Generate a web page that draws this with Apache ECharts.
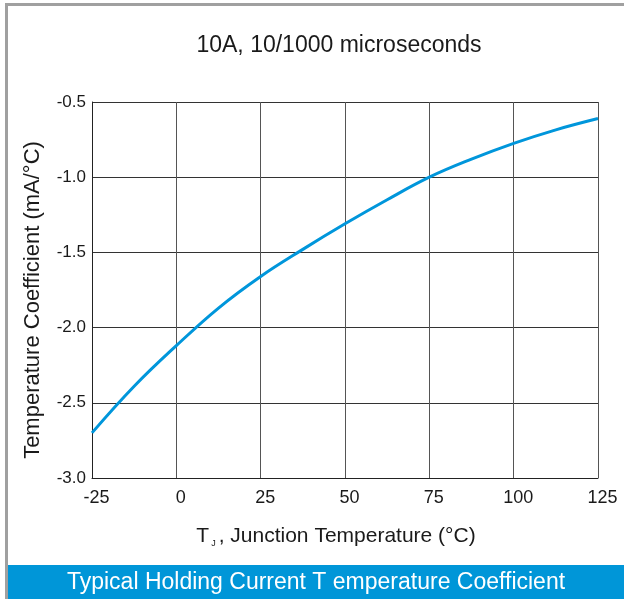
<!DOCTYPE html>
<html>
<head>
<meta charset="utf-8">
<script src="https://cdn.jsdelivr.net/npm/echarts@6/dist/echarts.min.js"></script>
<style>
  html, body { margin: 0; padding: 0; background: #fff; }
  #chart { width: 624px; height: 599px; }
</style>
</head>
<body>
<div id="chart"></div>
<script>
// Junction temperature (°C) and holding-current temperature coefficient (mA/°C)
const junctionTemp = [-25, -12.5, 0, 12.5, 25, 37.5, 50, 62.5, 75, 87.5, 100, 112.5, 125];
const tempCoefficient = [-2.70, -2.39, -2.12, -1.87, -1.66, -1.48, -1.31, -1.15, -1.00, -0.88, -0.775, -0.685, -0.61];

const xTicks = [-25, 0, 25, 50, 75, 100, 125];
const yTicks = [-3.0, -2.5, -2.0, -1.5, -1.0, -0.5];

const chartTitle = '10A, 10/1000 microseconds';
const yAxisTitle = 'Temperature Coefficient (mA/°C)';
const footerText = 'Typical Holding Current T emperature Coefficient';

const FONT = '"Liberation Sans", Arial, sans-serif';

const chart = echarts.init(document.getElementById('chart'), null, { renderer: 'canvas' });

chart.setOption({
  backgroundColor: '#ffffff',
  animation: false,
  title: {
    text: chartTitle,
    left: 334,
    textAlign: 'center',
    top: 29,
    textStyle: { fontFamily: FONT, fontSize: 23, fontWeight: 'normal', color: '#1a1a1a' }
  },
  grid: { left: 92, top: 102, right: 26, bottom: 121, containLabel: false },
  xAxis: {
    type: 'value',
    min: xTicks[0],
    max: xTicks[xTicks.length - 1],
    interval: 25,
    name: '{t|T}{sub|J}{t|, Junction Temperature (°C)}',
    nameLocation: 'middle',
    nameGap: 47,
    nameTextStyle: {
      padding: [0, 18, 0, 0],
      rich: {
        t: { fontFamily: FONT, fontSize: 21, color: '#1a1a1a' },
        sub: { fontFamily: FONT, fontSize: 9, color: '#1a1a1a', padding: [14, 3, 0, 2] }
      }
    },
    axisLine: { show: true, onZero: false, lineStyle: { color: '#222', width: 1 } },
    axisTick: { show: false },
    axisLabel: {
      margin: 11,
      padding: [0, 0, 0, 9],
      fontFamily: FONT, fontSize: 18, color: '#1a1a1a'
    },
    splitLine: { show: true, lineStyle: { color: '#555', width: 1 } }
  },
  yAxis: {
    type: 'value',
    min: yTicks[0],
    max: yTicks[yTicks.length - 1],
    interval: 0.5,
    name: yAxisTitle,
    nameLocation: 'middle',
    nameRotate: 90,
    nameGap: 48,
    nameTextStyle: { fontFamily: FONT, fontSize: 22, color: '#1a1a1a', padding: [0, 0, 0, -20] },
    axisLine: { show: true, onZero: false, lineStyle: { color: '#222', width: 1 } },
    axisTick: { show: false },
    axisLabel: {
      margin: 6,
      fontFamily: FONT, fontSize: 17, color: '#1a1a1a',
      formatter: v => v.toFixed(1)
    },
    splitLine: { show: true, lineStyle: { color: '#333', width: 1 } }
  },
  series: [{
    type: 'line',
    data: junctionTemp.map((t, i) => [t, tempCoefficient[i]]),
    smooth: 0.4,
    showSymbol: false,
    lineStyle: { color: '#0096db', width: 3 },
    z: 5
  }],
  graphic: [
    // outer frame (top and left edges)
    { type: 'rect', left: 5, top: 3, shape: { width: 619, height: 3 }, style: { fill: '#a0a0a0' }, silent: true },
    { type: 'rect', left: 5, top: 3, shape: { width: 3, height: 596 }, style: { fill: '#a0a0a0' }, silent: true },
    // caption banner
    { type: 'rect', left: 8, top: 565, shape: { width: 616, height: 34 }, style: { fill: '#0096d8' }, silent: true },
    {
      type: 'text',
      style: {
        x: 316, y: 583,
        text: footerText, fill: '#ffffff', font: '23px ' + FONT,
        textAlign: 'center', textVerticalAlign: 'middle'
      },
      silent: true
    }
  ]
});
</script>
</body>
</html>
